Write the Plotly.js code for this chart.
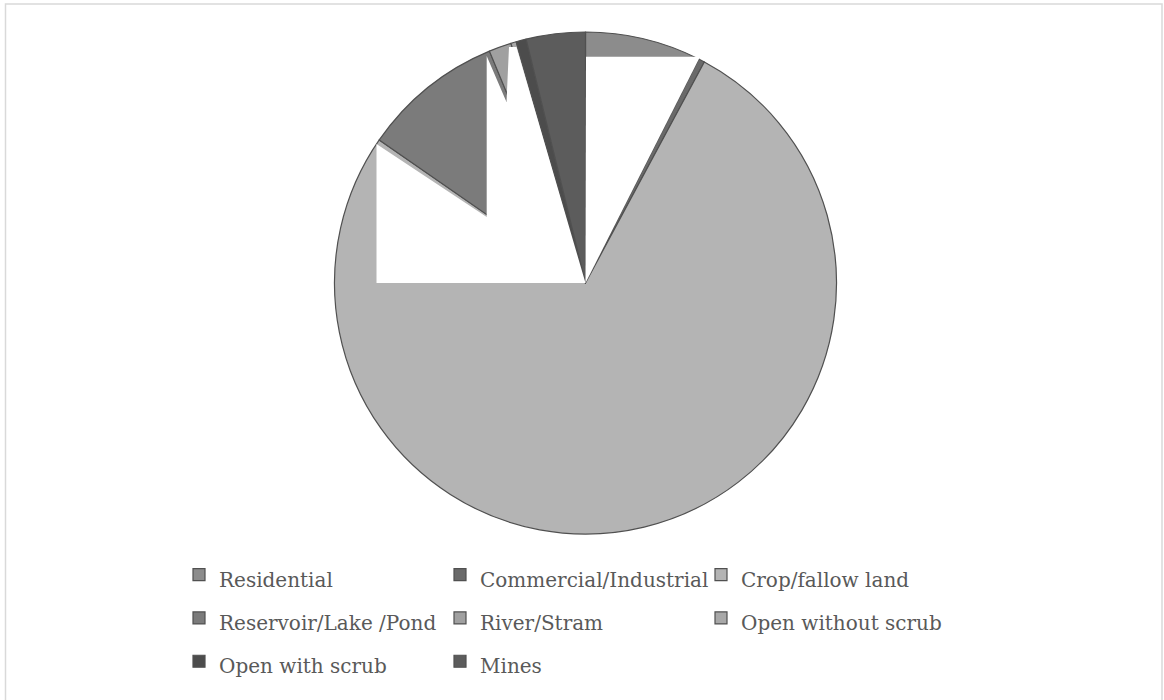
<!DOCTYPE html>
<html>
<head>
<meta charset="utf-8">
<script src="https://cdn.plot.ly/plotly-3.0.1.min.js"></script>
<style>html,body{margin:0;padding:0;background:#fff}#chart{width:1164px;height:700px}</style>
</head>
<body>
<div id="chart"></div>
<script>
// ---- data (share of area, %) ----
const categories = ["Residential", "Commercial/Industrial", "Crop/fallow land",
  "Reservoir/Lake /Pond", "River/Stram", "Open without scrub", "Open with scrub", "Mines"];
const shares = [7.45, 0.4, 76.8, 9.1, 1.45, 0.35, 0.65, 3.8];
const sliceColors = ["#8c8c8c", "#6a6a6a", "#b4b4b4", "#7b7b7b", "#a0a0a0", "#a8a8a8", "#4c4c4c", "#5c5c5c"];

// ---- geometry helpers (pixels -> paper) ----
const W = 1164, H = 700, ML = 100, MR = 100;
const PW = W - ML - MR;
const px = p => (p - ML) / PW;
const py = p => 1 - p / H;
function pathFrom(pts) {
  return pts.map((p, i) => (i ? "L" : "M") + px(p[0]).toFixed(5) + "," + py(p[1]).toFixed(5)).join(" ") + " Z";
}

// legend labels rendered at 20px inside a larger legend font for row spacing
const legendLabels = categories.map(c => '<span style="font-size:20px">' + c + '</span>');

const trace = {
  type: "pie",
  labels: legendLabels,
  values: shares,
  sort: false,
  direction: "clockwise",
  rotation: 0,
  textinfo: "none",
  hoverinfo: "none",
  marker: { colors: sliceColors, line: { color: "#505050", width: 1.2 } },
  domain: { x: [px(334.5), px(836.5)], y: [py(534), py(32)] }
};

const layout = {
  width: W, height: H,
  margin: { l: ML, r: MR, t: 0, b: 0, pad: 0 },
  paper_bgcolor: "#ffffff",
  plot_bgcolor: "#ffffff",
  font: { family: "DejaVu Serif", color: "#595959" },
  showlegend: true,
  legend: {
    orientation: "h",
    x: px(179), xanchor: "left",
    y: py(548), yanchor: "top",
    entrywidth: 216, entrywidthmode: "pixels",
    font: { family: "DejaVu Serif", size: 31, color: "#595959" },
    traceorder: "normal",
    bgcolor: "rgba(0,0,0,0)"
  },
  shapes: [
    // outer chart border
    { type: "rect", xref: "paper", yref: "paper", x0: px(5.5), x1: px(1162), y0: py(4), y1: py(705),
      line: { color: "#d9d9d9", width: 1.5 }, fillcolor: "rgba(0,0,0,0)", layer: "above" },
    // white blank areas visible in the reference
    { type: "path", xref: "paper", yref: "paper", layer: "above",
      path: pathFrom([[586, 56.7], [700, 56.7], [585.5, 283]]),
      fillcolor: "#ffffff", line: { width: 0 } },
    { type: "path", xref: "paper", yref: "paper", layer: "above",
      path: pathFrom([[376.5, 283], [376.5, 144], [486.7, 216.9], [486.7, 56], [506.5, 102],
                      [509, 47], [516.5, 47], [585.5, 283]]),
      fillcolor: "#ffffff", line: { width: 0 } }
  ]
};

Plotly.newPlot("chart", [trace], layout, { staticPlot: true, displayModeBar: false });
</script>
</body>
</html>
